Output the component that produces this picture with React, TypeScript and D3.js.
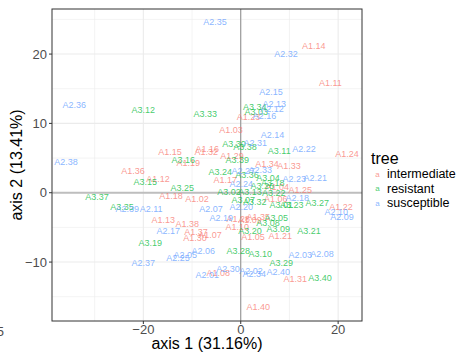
import * as d3 from "d3";

// PCA-style ordination: sample labels coloured by tree group
const intermediate: [string, number, number][] = [
  ["A1.14", 15.0, 21.2], ["A1.11", 18.4, 15.8], ["A1.23", 1.6, 10.9], ["A1.03", -2.0, 9.0],
  ["A1.24", 21.8, 5.6], ["A1.29", -1.8, 5.3], ["A1.15", -14.5, 5.9], ["A1.16", -6.9, 6.3],
  ["A1.32", -7.1, 5.9], ["A1.19", -10.8, 4.3], ["A1.34", 5.4, 4.1], ["A1.33", 9.9, 3.9],
  ["A1.36", -22.1, 3.1], ["A1.12", -17.0, 2.0], ["A1.17", -3.2, 1.8], ["A1.04", 7.5, 0.8],
  ["A1.25", 12.2, 0.4], ["A1.18", -14.3, -0.5], ["A1.02", -9.0, -0.9], ["A1.06", 7.2, -0.9],
  ["A1.22", 20.6, -2.1], ["A1.13", -15.9, -3.9], ["A1.38", -11.0, -4.5], ["A1.28", -0.5, -3.8],
  ["A1.09", 1.9, -3.9], ["A1.35", 3.6, -3.5], ["A1.10", -0.7, -4.9], ["A1.37", -9.2, -5.7],
  ["A1.07", -6.3, -6.1], ["A1.30", -9.4, -6.5], ["A1.05", 2.5, -6.4], ["A1.21", 8.1, -6.2],
  ["A1.08", -4.6, -11.6], ["A1.31", 11.2, -12.5], ["A1.40", 3.6, -16.5],
];

const resistant: [string, number, number][] = [
  ["A3.12", -20.0, 11.9], ["A3.33", -7.3, 11.4], ["A3.34", 2.9, 12.4], ["A3.03", 3.2, 11.6],
  ["A3.30", -1.4, 7.0], ["A3.38", 0.9, 6.6], ["A3.11", 7.9, 6.0], ["A3.39", -0.7, 4.7],
  ["A3.16", -11.8, 4.7], ["A3.24", -4.2, 3.0], ["A3.36", 1.3, 2.6], ["A3.15", -19.6, 1.5],
  ["A3.04", 5.6, 2.1], ["A3.18", 6.6, 1.4], ["A3.26", 4.4, 1.0], ["A3.25", -12.0, 0.7],
  ["A3.02", -2.4, 0.1], ["A3.13", 1.9, 0.1], ["A3.22", 6.8, 0.0], ["A3.37", -29.5, -0.6],
  ["A3.07", 0.5, -1.1], ["A3.32", 2.9, -1.3], ["A3.27", 15.7, -1.5], ["A3.01", 8.3, -1.8],
  ["A3.23", 10.5, -1.8], ["A3.35", -24.4, -2.1], ["A3.05", 7.3, -3.7], ["A3.08", 5.6, -4.4],
  ["A3.09", 7.7, -5.2], ["A3.20", 1.9, -5.5], ["A3.21", 14.0, -5.5], ["A3.19", -18.6, -7.3],
  ["A3.28", -0.5, -8.4], ["A3.10", 4.0, -8.8], ["A3.29", 8.3, -10.1], ["A3.40", 16.3, -12.3],
];

const susceptible: [string, number, number][] = [
  ["A2.35", -5.3, 24.6], ["A2.32", 9.3, 20.0], ["A2.36", -34.2, 12.7], ["A2.15", 6.2, 14.5],
  ["A2.13", 6.9, 12.8], ["A2.12", 6.4, 12.1], ["A2.16", 4.9, 11.1], ["A2.14", 6.5, 8.3],
  ["A2.31", 3.0, 7.2], ["A2.22", 13.0, 6.3], ["A2.38", -35.9, 4.4], ["A2.33", 4.0, 3.3],
  ["A2.27", 0.5, 3.1], ["A2.23", 11.0, 2.0], ["A2.21", 15.3, 2.1], ["A2.24", 0.1, 1.3],
  ["A2.18", 11.6, -0.8], ["A2.20", 0.1, -2.1], ["A2.39", -23.3, -2.4], ["A2.11", -18.4, -2.4],
  ["A2.07", -6.1, -2.4], ["A2.10", 19.6, -2.8], ["A2.09", 20.8, -3.5], ["A2.19", -4.0, -3.7],
  ["A2.17", -14.9, -5.5], ["A2.06", -7.7, -8.4], ["A2.05", -11.4, -9.0], ["A2.25", -12.9, -9.4],
  ["A2.37", -20.0, -10.1], ["A2.03", 12.2, -9.0], ["A2.08", 16.7, -8.8], ["A2.30", -2.6, -11.0],
  ["A2.01", -6.9, -11.8], ["A2.02", 2.1, -11.3], ["A2.34", 2.8, -11.7], ["A2.40", 7.7, -11.4],
];

const groups = ["intermediate", "resistant", "susceptible"];
const groupColors = ["#F8766D", "#00BA38", "#619CFF"];
const xTicks = [-20, 0, 20];
const yTicks = [-10, 0, 10, 20];
const xMinor = [-30, -10, 10];
const yMinor = [-15, -5, 5, 15, 25];

const W = 460;
const H = 354;
const m = { left: 52, right: 362, top: 9, bottom: 321 };
const font = "'Liberation Sans', Arial, Helvetica, sans-serif";

export default function App() {
  const x = d3.scaleLinear().domain([-38.76, 24.9]).range([m.left, m.right]);
  const y = d3.scaleLinear().domain([-18.5, 26.5]).range([m.bottom, m.top]);
  const color = d3.scaleOrdinal<string, string>().domain(groups).range(groupColors);

  const pts = [
    ...intermediate.map((d) => ({ g: "intermediate", l: d[0], x: d[1], y: d[2] })),
    ...resistant.map((d) => ({ g: "resistant", l: d[0], x: d[1], y: d[2] })),
    ...susceptible.map((d) => ({ g: "susceptible", l: d[0], x: d[1], y: d[2] })),
  ];

  return (
    <svg width={W} height={H} style={{ position: "absolute", left: 0, top: 0, fontFamily: font }}>
      <rect x={0} y={0} width={W} height={H} fill="#fff" />
      <defs>
        <clipPath id="panel">
          <rect x={m.left} y={m.top} width={m.right - m.left} height={m.bottom - m.top} />
        </clipPath>
      </defs>
      <g clipPath="url(#panel)">
        {xMinor.map((t) => (
          <line key={"xm" + t} x1={x(t)} x2={x(t)} y1={m.top} y2={m.bottom} stroke="#ebebeb" strokeWidth={0.6} />
        ))}
        {yMinor.map((t) => (
          <line key={"ym" + t} y1={y(t)} y2={y(t)} x1={m.left} x2={m.right} stroke="#ebebeb" strokeWidth={0.6} />
        ))}
        {xTicks.map((t) => (
          <line key={"xM" + t} x1={x(t)} x2={x(t)} y1={m.top} y2={m.bottom} stroke="#ebebeb" strokeWidth={1.1} />
        ))}
        {yTicks.map((t) => (
          <line key={"yM" + t} y1={y(t)} y2={y(t)} x1={m.left} x2={m.right} stroke="#ebebeb" strokeWidth={1.1} />
        ))}
        <line x1={m.left} x2={m.right} y1={y(0)} y2={y(0)} stroke="#bebebe" strokeWidth={2} />
        <line x1={x(0)} x2={x(0)} y1={m.top} y2={m.bottom} stroke="#8c8c8c" strokeWidth={1} />
        {pts.map((p) => (
          <text
            key={p.l}
            x={x(p.x)}
            y={y(p.y)}
            fontSize={9}
            textAnchor="middle"
            dominantBaseline="central"
            fill={color(p.g)}
            fillOpacity={0.75}
          >
            {p.l}
          </text>
        ))}
      </g>
      <rect
        x={m.left}
        y={m.top}
        width={m.right - m.left}
        height={m.bottom - m.top}
        fill="none"
        stroke="#333"
        strokeWidth={1}
      />
      {xTicks.map((t) => (
        <g key={"xt" + t}>
          <line x1={x(t)} x2={x(t)} y1={m.bottom} y2={m.bottom + 3} stroke="#333" />
          <text x={x(t)} y={m.bottom + 13} fontSize={13} fill="#4d4d4d" textAnchor="middle">
            {t < 0 ? "\u2212" + Math.abs(t) : t}
          </text>
        </g>
      ))}
      {yTicks.map((t) => (
        <g key={"yt" + t}>
          <line x1={m.left - 3} x2={m.left} y1={y(t)} y2={y(t)} stroke="#333" />
          <text x={m.left - 5} y={y(t)} fontSize={13} fill="#4d4d4d" textAnchor="end" dominantBaseline="central">
            {t < 0 ? "\u2212" + Math.abs(t) : t}
          </text>
        </g>
      ))}
      <text x={4} y={331} fontSize={13} fill="#4d4d4d" textAnchor="end" dominantBaseline="central">5</text>
      <text x={(m.left + m.right) / 2} y={343} fontSize={16} textAnchor="middle" dominantBaseline="central">
        axis 1 (31.16%)
      </text>
      <text
        transform={`translate(16,${(m.top + m.bottom) / 2}) rotate(-90)`}
        fontSize={16}
        textAnchor="middle"
        dominantBaseline="central"
      >
        axis 2 (13.41%)
      </text>
      <text x={371} y={158} fontSize={16} dominantBaseline="central">tree</text>
      {groups.map((g, i) => (
        <g key={g}>
          <text x={377.5} y={174 + i * 14.5} fontSize={8} fill={color(g)} fillOpacity={0.75} textAnchor="middle" dominantBaseline="central">
            a
          </text>
          <text x={387} y={174 + i * 14.5} fontSize={12.5} dominantBaseline="central">
            {g}
          </text>
        </g>
      ))}
    </svg>
  );
}
